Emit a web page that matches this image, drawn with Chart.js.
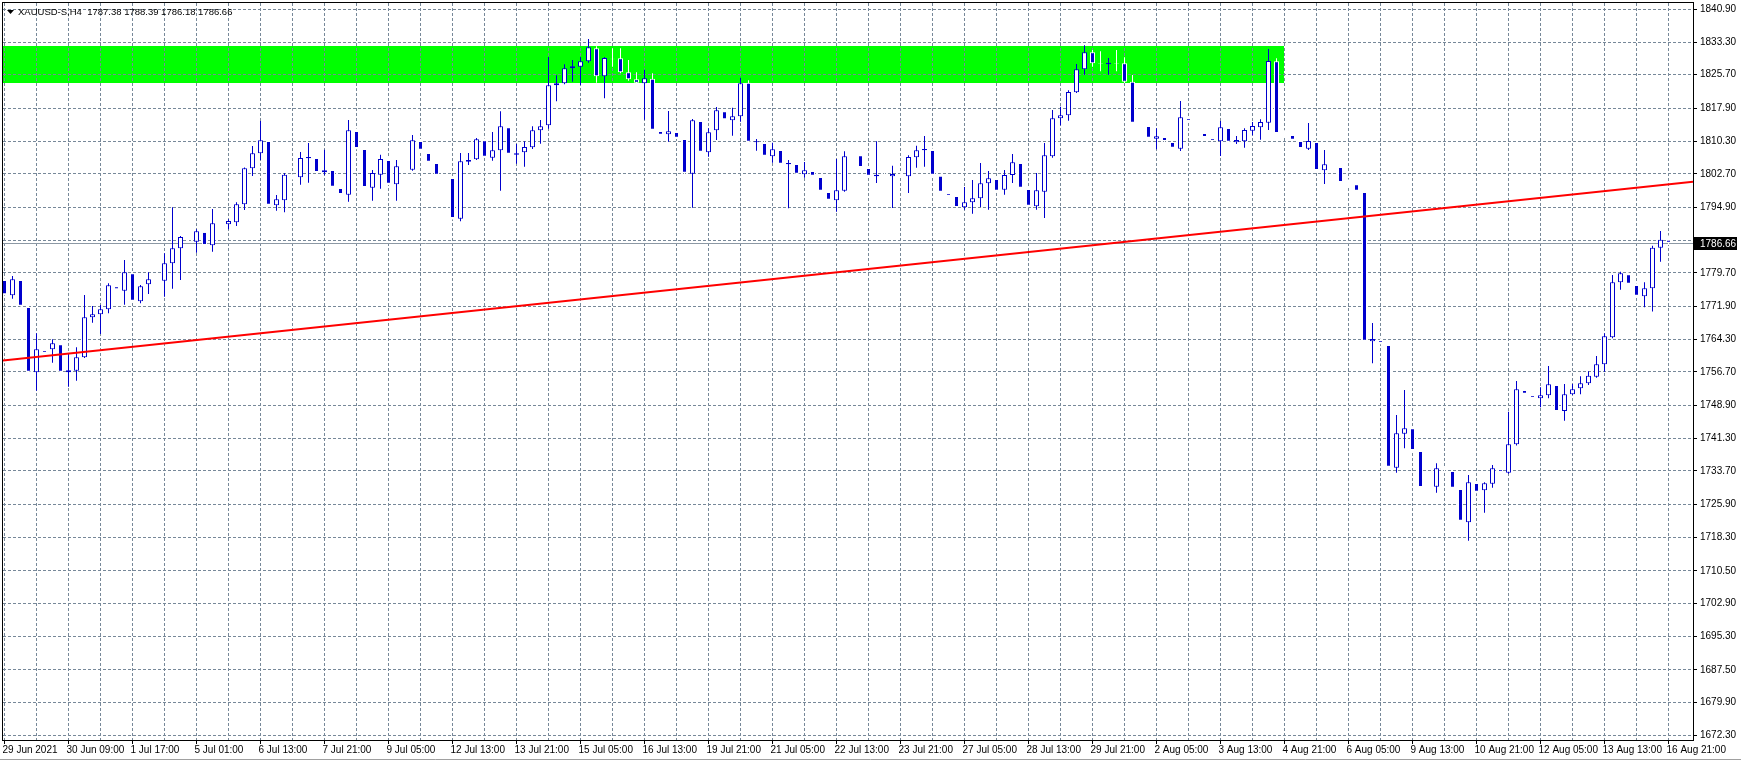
<!DOCTYPE html>
<html>
<head>
<meta charset="utf-8">
<title>XAUUSD-S,H4</title>
<script src="https://cdn.jsdelivr.net/npm/chart.js@4.4.1/dist/chart.umd.min.js"></script>
<style>
  html, body { margin: 0; padding: 0; background: #fff; }
  canvas { display: block; }
</style>
</head>
<body>
<canvas id="priceChart" width="1741" height="763"></canvas>
<script>
// H4 bars, 29 Jun 2021 01:00 .. 16 Aug 2021 21:00
const opens = [
  1778.04, 1774.48, 1778.04, 1771.77, 1756.59, 1761.78, 1761.94, 1763.10, 1756.59, 1756.98,
  1760.08, 1769.37, 1770.07, 1771.23, 1776.57, 1775.56, 1779.59, 1773.08, 1777.03, 1778.20,
  1777.88, 1781.91, 1785.39, 1787.87, 1786.94, 1789.19, 1786.09, 1791.20, 1790.97, 1791.43,
  1795.61, 1803.97, 1807.45, 1810.32, 1795.38, 1796.54, 1802.19, 1801.88, 1806.29, 1806.37,
  1803.04, 1803.58, 1799.40, 1797.85, 1812.63, 1808.46, 1799.48, 1802.50, 1805.90, 1800.25,
  1804.28, 1803.66, 1810.32, 1807.53, 1805.21, 1802.27, 1801.72, 1792.28, 1805.52, 1806.06,
  1810.47, 1806.44, 1808.15, 1813.49, 1807.14, 1807.68, 1808.84, 1812.79, 1813.95, 1823.24,
  1823.70, 1827.19, 1827.58, 1828.81, 1831.83, 1825.33, 1829.40, 1829.51, 1826.26, 1824.64,
  1823.70, 1824.79, 1812.64, 1811.86, 1812.40, 1810.78, 1802.73, 1814.96, 1807.68, 1812.79,
  1817.20, 1815.11, 1816.04, 1823.86, 1810.00, 1809.85, 1806.75, 1808.22, 1804.90, 1804.97,
  1802.57, 1803.35, 1801.95, 1798.47, 1796.53, 1798.78, 1806.70, 1806.99, 1804.05, 1802.11,
  1802.40, 1802.11, 1802.42, 1802.11, 1806.52, 1808.15, 1808.23, 1802.27, 1798.24, 1797.54,
  1794.91, 1796.07, 1797.00, 1800.48, 1801.49, 1799.01, 1802.42, 1805.21, 1799.17, 1795.14,
  1798.55, 1806.75, 1815.58, 1816.28, 1821.62, 1826.96, 1830.91, 1828.30, 1828.12, 1828.30,
  1828.35, 1824.09, 1814.26, 1813.80, 1810.86, 1811.24, 1810.08, 1808.53, 1815.66, 1812.87,
  1812.17, 1811.01, 1810.24, 1813.33, 1810.00, 1810.24, 1812.71, 1813.49, 1814.57, 1828.82,
  1812.10, 1811.71, 1810.31, 1808.53, 1810.08, 1803.50, 1804.74, 1804.28, 1800.60, 1800.25,
  1798.47, 1763.79, 1764.10, 1762.94, 1734.45, 1742.35, 1743.59, 1738.32, 1730.00, 1730.04,
  1734.14, 1733.68, 1729.50, 1721.76, 1730.89, 1729.19, 1730.73, 1734.14, 1733.29, 1739.87,
  1752.49, 1751.33, 1750.55, 1751.25, 1753.65, 1747.61, 1751.48, 1752.88, 1754.04, 1755.59,
  1758.45, 1764.72, 1777.49, 1779.35, 1776.87, 1774.24, 1776.10, 1785.50, 1787.38
];
const highs = [
  1778.40, 1778.97, 1778.30, 1772.00, 1765.65, 1762.10, 1764.26, 1763.40, 1761.01, 1762.40,
  1774.56, 1772.00, 1772.23, 1777.26, 1777.20, 1782.68, 1780.00, 1776.88, 1779.82, 1779.00,
  1784.23, 1794.91, 1788.26, 1788.40, 1789.81, 1789.80, 1794.53, 1792.00, 1792.13, 1796.08,
  1804.13, 1809.16, 1814.96, 1811.00, 1797.78, 1802.88, 1802.60, 1807.76, 1809.85, 1806.80,
  1808.30, 1804.00, 1799.80, 1815.19, 1813.20, 1808.90, 1803.58, 1807.14, 1806.40, 1805.90,
  1804.70, 1811.71, 1810.80, 1808.00, 1805.60, 1802.60, 1802.10, 1807.53, 1807.53, 1811.01,
  1810.90, 1812.40, 1817.20, 1813.90, 1809.62, 1810.24, 1813.72, 1815.19, 1829.82, 1825.56,
  1828.12, 1829.12, 1829.82, 1834.00, 1832.30, 1829.82, 1831.83, 1831.83, 1829.12, 1826.26,
  1826.88, 1826.03, 1813.00, 1817.28, 1812.80, 1811.20, 1815.42, 1815.40, 1813.26, 1818.21,
  1817.60, 1818.05, 1825.02, 1824.40, 1810.78, 1810.30, 1809.93, 1808.60, 1805.90, 1805.40,
  1805.44, 1803.80, 1802.30, 1798.90, 1806.13, 1807.91, 1807.50, 1807.40, 1804.50, 1810.24,
  1803.20, 1804.59, 1802.80, 1806.99, 1809.23, 1811.48, 1808.60, 1802.70, 1798.60, 1797.90,
  1799.63, 1801.26, 1805.21, 1803.35, 1801.90, 1803.58, 1807.30, 1805.60, 1799.60, 1802.88,
  1809.85, 1817.51, 1818.29, 1822.08, 1828.20, 1832.53, 1831.45, 1831.14, 1829.59, 1831.45,
  1829.74, 1825.64, 1814.60, 1814.20, 1813.26, 1811.60, 1810.40, 1819.60, 1816.00, 1813.30,
  1812.50, 1811.40, 1814.96, 1813.70, 1811.48, 1813.26, 1814.73, 1815.35, 1831.68, 1829.51,
  1812.80, 1812.10, 1810.70, 1814.49, 1810.50, 1808.22, 1805.10, 1804.60, 1801.40, 1800.60,
  1798.90, 1768.05, 1764.50, 1763.30, 1746.68, 1752.49, 1744.00, 1738.70, 1730.80, 1735.46,
  1734.50, 1734.00, 1729.90, 1732.75, 1731.30, 1731.05, 1735.07, 1734.50, 1747.46, 1754.58,
  1752.90, 1751.70, 1753.11, 1758.06, 1754.00, 1753.88, 1753.88, 1755.66, 1756.82, 1760.38,
  1765.65, 1779.20, 1779.97, 1779.80, 1777.30, 1777.49, 1786.00, 1789.40, 1788.39
];
const lows = [
  1774.50, 1773.70, 1771.90, 1756.50, 1752.34, 1760.90, 1758.84, 1756.50, 1753.27, 1754.66,
  1759.90, 1768.13, 1765.50, 1770.30, 1775.40, 1772.31, 1772.90, 1772.62, 1774.79, 1777.40,
  1774.17, 1776.03, 1778.04, 1787.00, 1784.39, 1785.80, 1784.62, 1790.40, 1789.81, 1790.58,
  1794.30, 1802.19, 1805.91, 1795.20, 1794.14, 1793.75, 1801.40, 1800.17, 1800.64, 1802.80,
  1802.35, 1799.40, 1797.70, 1796.23, 1808.40, 1799.30, 1796.46, 1799.25, 1800.10, 1796.46,
  1803.50, 1803.43, 1808.00, 1805.20, 1802.20, 1801.70, 1792.10, 1791.66, 1804.74, 1805.90,
  1806.40, 1805.75, 1798.78, 1807.10, 1805.05, 1804.35, 1808.46, 1809.70, 1813.18, 1819.53,
  1823.47, 1824.09, 1823.32, 1828.50, 1823.86, 1820.22, 1827.58, 1826.03, 1824.33, 1823.60,
  1815.27, 1812.50, 1811.50, 1810.16, 1810.80, 1802.60, 1794.83, 1807.50, 1806.67, 1810.55,
  1815.00, 1811.55, 1814.80, 1809.80, 1808.07, 1806.60, 1805.28, 1804.70, 1794.68, 1802.40,
  1801.80, 1801.90, 1798.40, 1796.30, 1793.90, 1798.50, 1805.80, 1803.90, 1801.90, 1800.56,
  1801.60, 1794.76, 1801.70, 1798.24, 1804.12, 1804.36, 1802.20, 1798.20, 1797.30, 1794.60,
  1794.37, 1793.44, 1794.99, 1794.37, 1798.40, 1797.85, 1800.56, 1799.10, 1794.90, 1794.37,
  1792.43, 1806.40, 1813.95, 1815.04, 1821.46, 1825.72, 1827.58, 1826.50, 1825.72, 1826.50,
  1823.80, 1814.30, 1813.80, 1810.80, 1808.38, 1810.00, 1808.40, 1807.99, 1814.70, 1812.10,
  1810.90, 1810.00, 1806.83, 1809.80, 1809.62, 1808.77, 1811.63, 1810.62, 1812.87, 1811.80,
  1811.40, 1810.30, 1808.30, 1808.22, 1803.20, 1800.33, 1804.00, 1800.40, 1799.80, 1798.40,
  1763.60, 1758.68, 1763.10, 1734.30, 1733.29, 1738.94, 1738.20, 1729.60, 1729.20, 1728.65,
  1733.50, 1729.40, 1721.80, 1717.50, 1728.50, 1724.00, 1729.81, 1733.10, 1733.06, 1739.60,
  1751.30, 1750.40, 1748.46, 1750.55, 1747.30, 1745.37, 1751.33, 1751.48, 1753.65, 1755.35,
  1756.75, 1764.49, 1775.79, 1776.80, 1774.00, 1771.69, 1770.70, 1782.30, 1786.18
];
const closes = [
  1774.71, 1778.19, 1772.08, 1756.75, 1761.94, 1761.16, 1763.33, 1756.75, 1757.06, 1760.08,
  1769.37, 1770.07, 1771.23, 1776.80, 1775.87, 1779.82, 1773.24, 1776.57, 1778.19, 1778.10,
  1781.91, 1785.39, 1788.02, 1787.48, 1789.34, 1786.17, 1791.20, 1791.10, 1791.74, 1795.61,
  1803.97, 1807.45, 1810.47, 1795.53, 1796.77, 1802.50, 1801.88, 1806.37, 1806.60, 1803.12,
  1803.50, 1799.71, 1798.00, 1812.79, 1808.69, 1799.63, 1802.88, 1806.14, 1800.41, 1804.43,
  1803.89, 1810.47, 1808.30, 1805.52, 1802.50, 1802.03, 1792.43, 1805.59, 1805.90, 1810.70,
  1806.68, 1808.15, 1813.72, 1807.37, 1807.45, 1808.92, 1812.79, 1813.72, 1823.24, 1823.71,
  1827.19, 1827.65, 1828.81, 1832.07, 1825.33, 1829.59, 1829.30, 1826.26, 1824.64, 1823.86,
  1824.87, 1812.95, 1811.79, 1812.56, 1811.09, 1802.96, 1815.11, 1807.84, 1812.33, 1817.44,
  1815.35, 1816.04, 1823.70, 1810.16, 1810.24, 1806.91, 1808.38, 1805.05, 1805.20, 1802.73,
  1803.50, 1802.26, 1798.78, 1796.69, 1798.86, 1806.75, 1806.60, 1804.28, 1802.27, 1802.50,
  1802.30, 1802.65, 1802.03, 1806.60, 1808.15, 1808.46, 1802.50, 1798.55, 1797.62, 1794.99,
  1796.07, 1797.00, 1800.48, 1801.65, 1798.78, 1802.42, 1805.36, 1799.48, 1795.30, 1798.86,
  1806.99, 1815.58, 1816.28, 1821.69, 1826.96, 1830.91, 1828.35, 1828.20, 1828.50, 1828.20,
  1824.09, 1814.57, 1814.03, 1811.09, 1811.40, 1810.31, 1808.77, 1815.81, 1815.04, 1812.48,
  1811.24, 1810.39, 1813.49, 1810.16, 1810.55, 1812.87, 1813.80, 1814.73, 1828.89, 1812.17,
  1812.00, 1810.62, 1808.69, 1810.31, 1803.58, 1804.90, 1804.35, 1800.79, 1800.50, 1798.78,
  1763.95, 1764.33, 1763.48, 1734.68, 1742.43, 1743.59, 1738.55, 1729.96, 1729.90, 1734.30,
  1733.91, 1729.81, 1722.14, 1731.05, 1728.88, 1730.81, 1734.30, 1733.52, 1739.87, 1752.64,
  1751.64, 1750.71, 1751.25, 1753.80, 1747.61, 1751.48, 1752.64, 1754.04, 1755.82, 1758.45,
  1764.95, 1777.49, 1779.58, 1777.18, 1774.40, 1776.10, 1785.50, 1787.40, 1786.66
];

// time axis labels, one every 8 bars
const timeLabels = [
  '29 Jun 2021', '30 Jun 09:00', '1 Jul 17:00', '5 Jul 01:00', '6 Jul 13:00', '7 Jul 21:00',
  '9 Jul 05:00', '12 Jul 13:00', '13 Jul 21:00', '15 Jul 05:00', '16 Jul 13:00', '19 Jul 21:00',
  '21 Jul 05:00', '22 Jul 13:00', '23 Jul 21:00', '27 Jul 05:00', '28 Jul 13:00', '29 Jul 21:00',
  '2 Aug 05:00', '3 Aug 13:00', '4 Aug 21:00', '6 Aug 05:00', '9 Aug 13:00', '10 Aug 21:00',
  '12 Aug 05:00', '13 Aug 13:00', '16 Aug 21:00'
];
const priceTicks = [
  1840.90, 1833.30, 1825.70, 1817.90, 1810.30, 1802.70, 1794.90, 1787.30, 1779.70, 1771.90,
  1764.30, 1756.70, 1748.90, 1741.30, 1733.70, 1725.90, 1718.30, 1710.50, 1702.90, 1695.30,
  1687.50, 1679.90, 1672.30
];

// trend line anchors (bar index, price) and the supply zone
const trendBars = [0, 208];
const trendPrices = [1759.40, 1800.26];
const zoneBars = [-5, 159.9];
const zonePrices = [1823.85, 1832.38];

const symbolName = 'XAUUSD-S,H4';

const xMin = -0.1875, xMax = 211.0625;
const yMin = 1671.21, yMax = 1842.36;

const BLUE = '#0000cd';
const GRID = '#778899';

const last = closes.length - 1;
const isUp = closes.map((c, i) => c > opens[i]);
const bodies = closes.map((c, i) => ({ x: i, y: [opens[i], c] }));
const wicks = closes.map((c, i) => ({ x: i, y: [lows[i], highs[i]] }));

const slope = (trendPrices[1] - trendPrices[0]) / (trendBars[1] - trendBars[0]);
const trendAt = x => trendPrices[0] + (x - trendBars[0]) * slope;
const trendLine = [{ x: xMin, y: trendAt(xMin) }, { x: xMax, y: trendAt(xMax) }];

Chart.defaults.font.family = '"Liberation Sans", Arial, sans-serif';
Chart.defaults.font.size = 10;
Chart.defaults.color = '#000';

const mt4Overlay = {
  id: 'mt4Overlay',
  beforeDraw(chart) {
    const { ctx, chartArea: a, scales: { x, y } } = chart;
    const x0 = Math.max(a.left, x.getPixelForValue(zoneBars[0]));
    const x1 = Math.min(a.right, x.getPixelForValue(zoneBars[1]));
    const y0 = y.getPixelForValue(zonePrices[1]);
    const y1 = y.getPixelForValue(zonePrices[0]);
    ctx.save();
    ctx.fillStyle = '#00ff00';
    ctx.fillRect(Math.round(x0), Math.round(y0), Math.round(x1 - x0), Math.round(y1 - y0));
    ctx.restore();
  },
  beforeDatasetsDraw(chart) {
    const { ctx, chartArea: a, scales: { y } } = chart;
    const py = Math.round(y.getPixelForValue(closes[last])) + 0.5;
    ctx.save();
    ctx.strokeStyle = '#8c98a4';
    ctx.lineWidth = 1;
    ctx.beginPath();
    ctx.moveTo(a.left, py);
    ctx.lineTo(a.right, py);
    ctx.stroke();
    ctx.restore();
  },
  afterDraw(chart) {
    const { ctx, chartArea: a, scales: { y } } = chart;
    ctx.save();
    // frame
    ctx.strokeStyle = '#000';
    ctx.lineWidth = 1;
    ctx.strokeRect(a.left - 0.5, a.top - 0.5, a.right - a.left + 1, a.bottom - a.top + 1);
    // bottom window edge
    ctx.strokeStyle = '#a0a0a0';
    ctx.beginPath();
    ctx.moveTo(0, 759.5);
    ctx.lineTo(chart.width, 759.5);
    ctx.stroke();
    // price box
    const py = Math.round(y.getPixelForValue(closes[last]));
    ctx.fillStyle = '#000';
    ctx.fillRect(a.right + 1, py - 6, 43, 13);
    ctx.fillStyle = '#fff';
    ctx.font = '10px "Liberation Sans", Arial, sans-serif';
    ctx.textBaseline = 'middle';
    ctx.fillText(closes[last].toFixed(2), a.right + 7, py + 1);
    // title
    ctx.fillStyle = '#000';
    ctx.beginPath();
    ctx.moveTo(7, 10); ctx.lineTo(14, 10); ctx.lineTo(10.5, 14); ctx.closePath();
    ctx.fill();
    ctx.font = '9.5px "Liberation Sans", Arial, sans-serif';
    const title = symbolName + '  ' + [opens[last], highs[last], lows[last], closes[last]]
      .map(v => v.toFixed(2)).join(' ');
    ctx.fillText(title, 18, 12);
    ctx.restore();
  }
};

new Chart(document.getElementById('priceChart'), {
  type: 'bar',
  data: {
    datasets: [
      {
        type: 'line',
        data: trendLine,
        borderColor: '#ff0000',
        borderWidth: 2,
        pointRadius: 0,
        order: 0
      },
      {
        data: bodies,
        backgroundColor: isUp.map(u => u ? '#ffffff' : BLUE),
        borderColor: isUp.map(u => u ? BLUE : '#ffffff'),
        borderWidth: 1,
        borderSkipped: false,
        barThickness: 5,
        grouped: false,
        inflateAmount: 0,
        order: 1
      },
      {
        data: wicks,
        backgroundColor: isUp.map(u => u ? BLUE : '#ffffff'),
        borderWidth: 0,
        barThickness: 1,
        grouped: false,
        inflateAmount: 0,
        order: 2
      }
    ]
  },
  options: {
    responsive: false,
    animation: false,
    layout: { padding: { left: 3, top: 3, right: 0, bottom: 0 } },
    plugins: { legend: { display: false }, tooltip: { enabled: false } },
    scales: {
      x: {
        type: 'linear',
        min: xMin,
        max: xMax,
        offset: false,
        afterBuildTicks(scale) {
          const t = [];
          for (let i = 0; i <= last; i += 4) t.push({ value: i });
          scale.ticks = t;
        },
        afterFit(scale) {
          scale.height = 23;
          scale.paddingLeft = 0;
          scale.paddingRight = 0;
        },
        grid: {
          offset: false,
          color: GRID,
          tickLength: 4,
          tickColor: c => (c.index % 2 === 0 ? '#000' : 'rgba(0,0,0,0)'),
          tickBorderDash: []
        },
        border: { color: '#000', dash: [3, 2] },
        ticks: {
          autoSkip: false,
          maxRotation: 0,
          minRotation: 0,
          align: 'start',
          labelOffset: -2,
          padding: 0,
          callback: v => (v % 8 === 0 ? timeLabels[v / 8] : '')
        }
      },
      y: {
        position: 'right',
        min: yMin,
        max: yMax,
        afterBuildTicks(scale) {
          scale.ticks = priceTicks.map(v => ({ value: v }));
        },
        afterFit(scale) {
          scale.width = 48;
          scale.paddingTop = 0;
          scale.paddingBottom = 0;
        },
        grid: { color: GRID, tickLength: 4, tickColor: '#000', tickBorderDash: [] },
        border: { color: '#000', dash: [3, 2] },
        ticks: {
          padding: 3,
          callback: v => (Math.abs(v - closes[last]) < 3 ? '' : v.toFixed(2))
        }
      }
    }
  },
  plugins: [mt4Overlay]
});
</script>
</body>
</html>
